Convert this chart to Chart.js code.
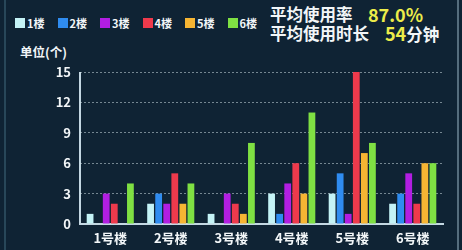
<!DOCTYPE html>
<html>
<head>
<meta charset="utf-8">
<script src="https://cdn.jsdelivr.net/npm/chart.js@4.4.0/dist/chart.umd.min.js"></script>
<style>
  html, body { margin: 0; padding: 0; }
  body { width: 462px; height: 250px; background: #0f2334; overflow: hidden; position: relative;
    font-family: "Noto Sans CJK SC", "Noto Sans", sans-serif; color: #f2f6f8; }
  #wrap { position: absolute; left: 0; top: 0; width: 462px; height: 250px; }
  .legend { position: absolute; left: 15px; top: 15px; display: flex; font-size: 11px; font-weight: bold; }
  .legend span { display: flex; align-items: center; margin-right: 13px; }
  .legend i { display: inline-block; width: 10px; height: 10px; margin-right: 2px; }
  .stat { position: absolute; font-size: 16.5px; font-weight: bold; line-height: 18px; white-space: nowrap; }
  .val { color: #ecec4a; font-size: 18px; }
  .unit { position: absolute; left: 20px; top: 42px; font-size: 12.5px; font-weight: bold; }
  .frameL { position: absolute; left: 4px; top: 0; width: 2px; height: 250px; background: rgba(90,140,160,0.35); }
  .frameR { position: absolute; left: 457px; top: 0; width: 2px; height: 250px; background: rgba(170,200,215,0.45); }
</style>
</head>
<body>
<div class="frameL"></div>
<div class="frameR"></div>
<div class="legend" id="legend"></div>
<div class="stat" style="left:270px;top:5px">平均使用率</div>
<div class="stat val" style="left:368px;top:5px">87.0%</div>
<div class="stat" style="left:270px;top:24px">平均使用时长</div>
<div class="stat" style="left:385px;top:24px"><span class="val">54</span>分钟</div>
<div class="unit">单位(个)</div>
<div id="wrap"><canvas id="myChart" width="462" height="250"></canvas></div>
<script>
const buildings = ['1号楼', '2号楼', '3号楼', '4号楼', '5号楼', '6号楼'];
const floors = ['1楼', '2楼', '3楼', '4楼', '5楼', '6楼'];
const floorColors = ['#c4f3f6', '#2f8cf0', '#b21ee2', '#ee3a4c', '#f6b533', '#7fe043'];
const yTicks = [0, 3, 6, 9, 12, 15];

// counts per floor, one array per floor, indexed by building
const floor1 = [1, 2, 1, 3, 3, 2];
const floor2 = [0, 3, 0, 1, 5, 3];
const floor3 = [3, 2, 3, 4, 1, 5];
const floor4 = [2, 5, 2, 6, 15, 2];
const floor5 = [0, 2, 1, 3, 7, 6];
const floor6 = [4, 4, 8, 11, 8, 6];
const seriesValues = [floor1, floor2, floor3, floor4, floor5, floor6];

const legendEl = document.getElementById('legend');
floors.forEach((f, i) => {
  const s = document.createElement('span');
  s.innerHTML = `<i style="background:${floorColors[i]}"></i>${f}`;
  legendEl.appendChild(s);
});

const axisColor = 'rgba(215,235,245,0.9)';
const tickFont = { family: '"Noto Sans CJK SC", "Noto Sans", sans-serif', size: 13, weight: 'bold' };

const ctx = document.getElementById('myChart').getContext('2d');
new Chart(ctx, {
  type: 'bar',
  data: {
    labels: buildings,
    datasets: floors.map((f, i) => ({
      label: f,
      data: seriesValues[i],
      backgroundColor: floorColors[i],
      borderWidth: 0,
      categoryPercentage: 0.8,
      barPercentage: 0.84
    }))
  },
  options: {
    responsive: false,
    animation: false,
    layout: { padding: { top: 72, right: 19, left: 0, bottom: 0 } },
    plugins: { legend: { display: false }, tooltip: { enabled: false } },
    scales: {
      x: {
        // only the first (left-edge) grid line is shown: it acts as the y axis line
        grid: { drawTicks: false, color: (c) => c.index === 0 ? axisColor : 'transparent', lineWidth: 2 },
        border: { color: axisColor, width: 2 },
        ticks: { color: '#f2f6f8', font: tickFont, padding: 6 },
        afterFit: (s) => { s.height = 26; }
      },
      y: {
        min: 0,
        max: 15,
        afterBuildTicks: (s) => { s.ticks = yTicks.map(v => ({ value: v })); },
        grid: { color: (c) => c.tick.value === 0 ? 'transparent' : 'rgba(220,235,240,0.5)', drawTicks: false, lineWidth: 1 },
        border: { display: false, dash: [2, 2] },
        ticks: { color: '#f2f6f8', font: tickFont, padding: 9 },
        afterFit: (s) => { s.width = 80; }
      }
    }
  }
});
</script>
</body>
</html>
